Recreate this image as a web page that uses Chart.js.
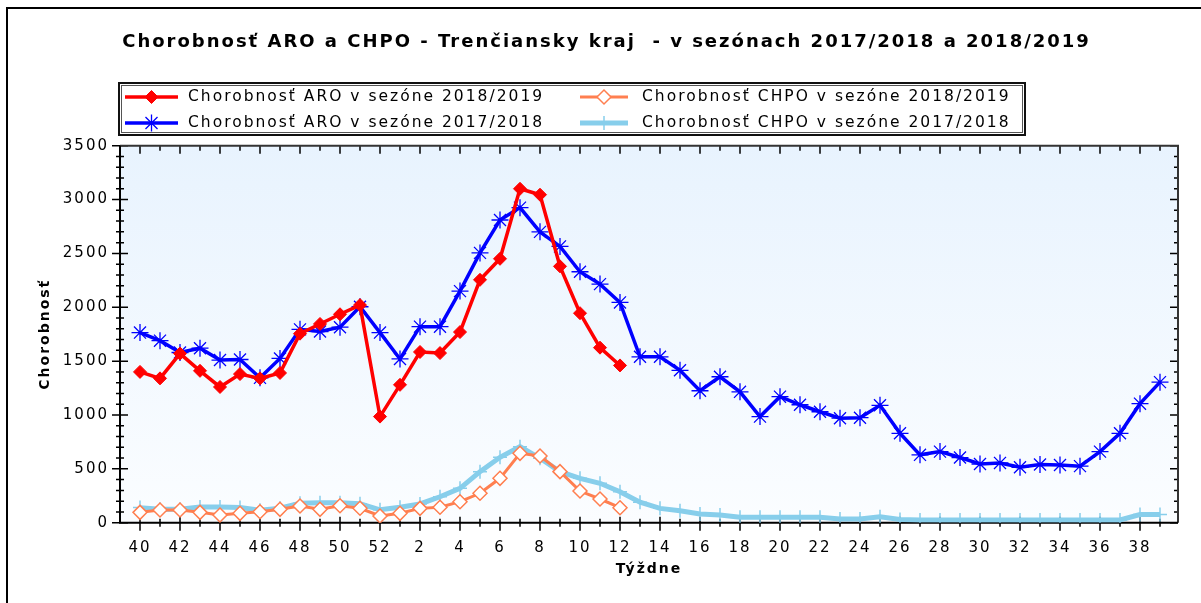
<!DOCTYPE html>
<html><head><meta charset="utf-8">
<script src="https://cdn.jsdelivr.net/npm/chart.js@4.4.1/dist/chart.umd.min.js"></script>
<style>html,body{margin:0;padding:0;background:#fff;}canvas{display:block;}</style>
</head><body>
<canvas id="c" width="1201" height="603"></canvas>
<script>
const chartTitle = 'Chorobnosť ARO a CHPO - Trenčiansky kraj  - v sezónach 2017/2018 a 2018/2019';
const xTitle = 'Týždne';
const yTitle = 'Chorobnosť';
const seriesNames = [
  'Chorobnosť ARO v sezóne 2018/2019',
  'Chorobnosť CHPO v sezóne 2018/2019',
  'Chorobnosť ARO v sezóne 2017/2018',
  'Chorobnosť CHPO v sezóne 2017/2018'
];
const weeks = ['40','41','42','43','44','45','46','47','48','49','50','51','52',
  '1','2','3','4','5','6','7','8','9','10','11','12','13','14','15','16','17','18','19',
  '20','21','22','23','24','25','26','27','28','29','30','31','32','33','34','35','36','37','38','39'];
const aro1819 = [1400,1340,1570,1410,1260,1380,1340,1390,1755,1845,1935,2020,985,
  1280,1585,1575,1770,2255,2450,3100,3045,2380,1945,1625,1460];
const chpo1819 = [96,118,118,96,71,87,102,124,155,124,157,134,62,
  87,133,143,195,273,412,644,619,474,294,220,139];
const aro1718 = [1765,1690,1580,1620,1510,1515,1345,1525,1795,1775,1815,2005,1765,
  1520,1820,1820,2150,2505,2810,2925,2700,2565,2330,2215,2045,
  1540,1540,1415,1225,1355,1215,985,
  1170,1095,1030,970,975,1090,830,630,660,605,
  545,555,515,540,535,525,660,830,1105,1305];
const chpo1718 = [140,125,125,145,145,140,115,135,180,185,185,175,120,
  143,174,241,319,474,607,706,598,474,412,366,288,
  190,133,111,81,71,50,50,
  50,50,50,35,35,55,30,25,25,25,
  25,25,25,25,25,25,25,25,75,75];
const yMax = 3500, yStep = 500, yMinorStep = 100;

const toXY = arr => arr.map((v, i) => ({x: i, y: v}));

function setLS(ctx) { if ('letterSpacing' in ctx) ctx.letterSpacing = '2px'; }

function drawMarker(ctx, style, r, x, y) {
  ctx.beginPath();
  if (style === 'rectRot') {
    ctx.moveTo(x - r, y); ctx.lineTo(x, y - r); ctx.lineTo(x + r, y); ctx.lineTo(x, y + r); ctx.closePath();
    ctx.fill(); ctx.stroke();
  } else if (style === 'star') {
    const d = Math.SQRT1_2 * r;
    ctx.moveTo(x - r, y); ctx.lineTo(x + r, y); ctx.moveTo(x, y - r); ctx.lineTo(x, y + r);
    ctx.moveTo(x - d, y - d); ctx.lineTo(x + d, y + d); ctx.moveTo(x - d, y + d); ctx.lineTo(x + d, y - d);
    ctx.stroke();
  } else if (style === 'cross') {
    ctx.moveTo(x - r, y); ctx.lineTo(x + r, y); ctx.moveTo(x, y - r); ctx.lineTo(x, y + r);
    ctx.stroke();
  }
}

const legendPos = [
  {sx0: 125, sx1: 178, tx: 188, y: 97},
  {sx0: 580, sx1: 628, tx: 642, y: 97},
  {sx0: 125, sx1: 178, tx: 188, y: 123},
  {sx0: 580, sx1: 628, tx: 642, y: 123}
];

const decor = {
  id: 'decor',
  beforeUpdate(chart) { setLS(chart.ctx); },
  beforeDraw(chart) {
    const ctx = chart.ctx; setLS(ctx);
    const a = chart.chartArea;
    ctx.save();
    ctx.fillStyle = '#fff'; ctx.fillRect(0, 0, chart.width, chart.height);
    ctx.strokeStyle = '#000'; ctx.lineWidth = 2;
    ctx.strokeRect(7, 8, chart.width + 20, chart.height + 20);
    const g = ctx.createLinearGradient(0, a.top, 0, a.bottom);
    g.addColorStop(0, '#e8f3fe'); g.addColorStop(1, '#fbfdff');
    ctx.fillStyle = g; ctx.fillRect(a.left, a.top, a.right - a.left, a.bottom - a.top);
    ctx.restore();
  },
  beforeDatasetsDraw(chart) {
    const ctx = chart.ctx, a = chart.chartArea, xs = chart.scales.x, ys = chart.scales.y;
    ctx.save();
    ctx.strokeStyle = '#000'; ctx.lineWidth = 1.5;
    ctx.beginPath();
    for (let v = 0; v <= yMax; v += yMinorStep) {
      const y = ys.getPixelForValue(v);
      const major = v % yStep === 0;
      const l = major ? 8 : 4;
      ctx.moveTo(a.left - l, y); ctx.lineTo(a.left + l, y);
      ctx.moveTo(a.right - l, y); ctx.lineTo(a.right, y);
    }
    for (let i = 0; i < weeks.length; i++) {
      const x = xs.getPixelForValue(i);
      const major = i % 2 === 0;
      ctx.moveTo(x, a.bottom - (major ? 6 : 4)); ctx.lineTo(x, a.bottom + (major ? 8 : 4));
      ctx.moveTo(x, a.top); ctx.lineTo(x, a.top + (major ? 8 : 5));
    }
    ctx.stroke();
    ctx.lineWidth = 2;
    ctx.strokeStyle = '#333';
    ctx.beginPath();
    ctx.moveTo(a.left, a.top); ctx.lineTo(a.right, a.top); ctx.lineTo(a.right, a.bottom);
    ctx.stroke();
    ctx.strokeStyle = '#000';
    ctx.beginPath();
    ctx.moveTo(a.left, a.top); ctx.lineTo(a.left, a.bottom); ctx.lineTo(a.right, a.bottom);
    ctx.stroke();
    ctx.restore();
  },
  afterDraw(chart) {
    const ctx = chart.ctx;
    ctx.save();
    ctx.strokeStyle = '#111'; ctx.lineWidth = 2;
    ctx.strokeRect(119, 83, 906, 52);
    ctx.strokeStyle = '#555'; ctx.lineWidth = 1;
    ctx.strokeRect(121.5, 85.5, 901, 47);
    chart.data.datasets.forEach((ds, i) => {
      const p = legendPos[i];
      ctx.strokeStyle = ds.borderColor; ctx.lineWidth = ds.borderWidth;
      ctx.beginPath(); ctx.moveTo(p.sx0, p.y); ctx.lineTo(p.sx1, p.y); ctx.stroke();
      ctx.fillStyle = ds.pointBackgroundColor; ctx.strokeStyle = ds.pointBorderColor;
      ctx.lineWidth = ds.pointBorderWidth;
      drawMarker(ctx, ds.pointStyle, ds.pointRadius, (p.sx0 + p.sx1) / 2, p.y);
      ctx.fillStyle = '#000';
      ctx.font = '15.5px "DejaVu Sans"';
      ctx.textBaseline = 'middle'; ctx.textAlign = 'left';
      ctx.fillText(ds.label, p.tx, p.y);
    });
    ctx.restore();
  }
};

Chart.defaults.font.family = '"DejaVu Sans"';
Chart.defaults.color = '#000';

new Chart(document.getElementById('c'), {
  type: 'line',
  data: {
    datasets: [
      {label: seriesNames[0], data: toXY(aro1819), borderColor: '#ff0000', borderWidth: 3.5,
        pointStyle: 'rectRot', pointRadius: 6.5, pointBackgroundColor: '#ff0000', pointBorderColor: '#ff0000', pointBorderWidth: 1},
      {label: seriesNames[1], data: toXY(chpo1819), borderColor: '#ff7f50', borderWidth: 3,
        pointStyle: 'rectRot', pointRadius: 7, pointBackgroundColor: '#ffffff', pointBorderColor: '#ff7f50', pointBorderWidth: 1.5},
      {label: seriesNames[2], data: toXY(aro1718), borderColor: '#0000ff', borderWidth: 3.5,
        pointStyle: 'star', pointRadius: 8.5, pointBackgroundColor: '#0000ff', pointBorderColor: '#0000ff', pointBorderWidth: 1.3},
      {label: seriesNames[3], data: toXY(chpo1718), borderColor: '#87ceeb', borderWidth: 5,
        pointStyle: 'cross', pointRadius: 7, pointBackgroundColor: '#87ceeb', pointBorderColor: '#87ceeb', pointBorderWidth: 1.5}
    ]
  },
  options: {
    responsive: false, animation: false, devicePixelRatio: 1, events: [],
    layout: {padding: {left: 12, right: 0, top: 0, bottom: 0}},
    elements: {line: {tension: 0, fill: false}},
    plugins: {
      legend: {display: false},
      tooltip: {enabled: false},
      title: {display: true, text: chartTitle, color: '#000',
        font: {family: '"DejaVu Sans"', size: 18, weight: 'bold', lineHeight: 1.2},
        padding: {top: 31.2, bottom: 92.9}}
    },
    scales: {
      x: {type: 'linear', min: -1, max: 51.9, bounds: 'data',
        grid: {display: false, drawTicks: false}, border: {display: false},
        ticks: {stepSize: 1, maxTicksLimit: 100, autoSkip: false, maxRotation: 0, minRotation: 0,
          padding: 16, font: {size: 15}, color: '#000',
          callback: v => (Number.isInteger(v) && v >= 0 && v % 2 === 0 && v < weeks.length) ? weeks[v] : ''},
        title: {display: true, text: xTitle, color: '#000', font: {size: 14, weight: 'bold', lineHeight: 1.2},
          padding: {top: 0, bottom: 25}},
        afterFit(s) { s.height = 80.3; }
      },
      y: {type: 'linear', min: 0, max: yMax, bounds: 'data',
        grid: {display: false, drawTicks: false}, border: {display: false},
        ticks: {stepSize: yStep, padding: 11, font: {size: 15}, color: '#000', callback: v => String(v)},
        title: {display: true, text: yTitle, color: '#000', font: {size: 14, weight: 'bold', lineHeight: 1.2},
          padding: {top: 24.6, bottom: 0}},
        afterFit(s) { s.width = 108; }
      },
      y2: {type: 'linear', position: 'right', display: true,
        grid: {display: false, drawTicks: false}, border: {display: false},
        ticks: {display: false},
        afterFit(s) { s.width = 23; }
      }
    }
  },
  plugins: [decor]
});
</script>
</body></html>
